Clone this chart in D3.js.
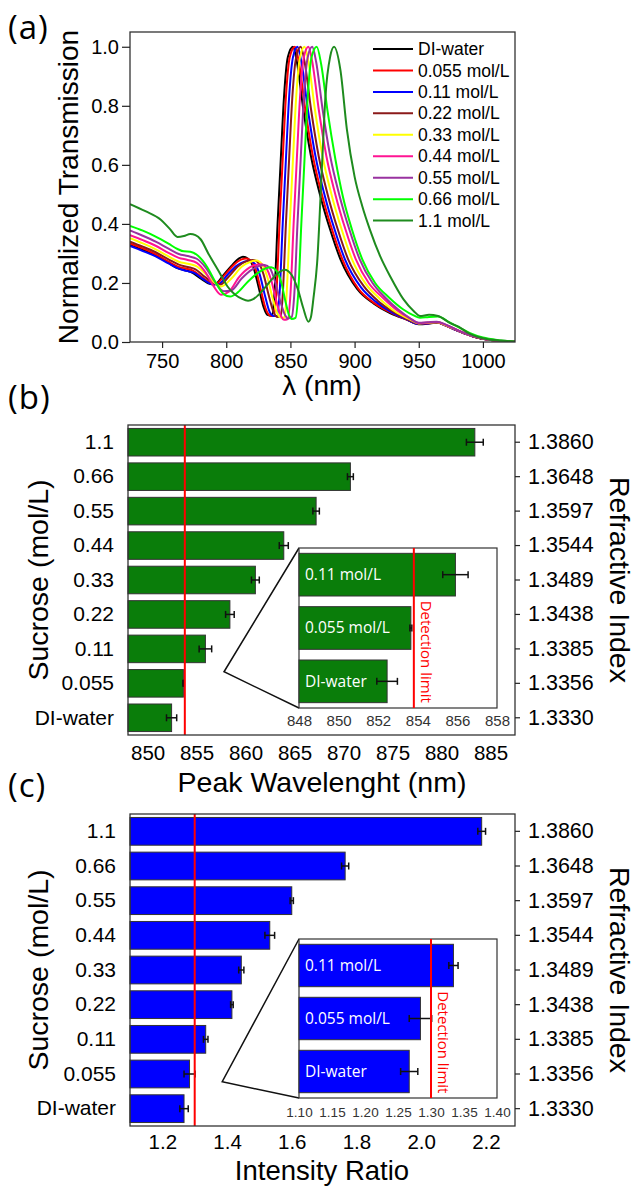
<!DOCTYPE html>
<html>
<head>
<meta charset="utf-8">
<script src="https://cdn.jsdelivr.net/npm/d3@7"></script>
<style>
body { margin: 0; background: #fff; }
svg text { font-family: "Liberation Sans", Arimo, Arial, sans-serif; fill: #000; }
</style>
</head>
<body>
<div id="chart-area"></div>
<script>
// ---------- data: panel (a) spectra, [wavelength nm, normalized transmission]
var specDI = [[725,0.328],[735,0.312],[745,0.293],[755,0.268],[762,0.250],[768,0.243],[773,0.236],[780,0.215],[787,0.197],[791,0.195],[797,0.222],[804,0.258],[810,0.283],[813,0.289],[817,0.282],[821,0.255],[825,0.190],[829,0.120],[832,0.092],[835.5,0.089],[837.5,0.160],[840,0.400],[842.5,0.620],[845,0.830],[848,0.965],[852,1.0],[855,0.95],[860,0.79],[866,0.63],[873,0.50],[881,0.38],[889,0.28],[902,0.18],[915,0.13],[928,0.097],[941,0.075],[950,0.060],[957,0.062],[964,0.066],[972,0.054],[982,0.035],[993,0.018],[1006,0.007],[1025,0.001]];
var spec0055 = [[725,0.334],[735,0.317],[745,0.297],[755,0.272],[762,0.256],[768,0.249],[774,0.242],[781,0.220],[788,0.200],[792,0.197],[799,0.228],[806,0.262],[812,0.280],[815.5,0.283],[819,0.276],[823,0.245],[827,0.175],[831,0.110],[834,0.090],[837,0.088],[839,0.160],[841.5,0.400],[844,0.620],[846.5,0.830],[849.5,0.965],[853.5,1.0],[856.5,0.95],[861.5,0.79],[867.5,0.63],[874.5,0.50],[882.5,0.38],[890.5,0.28],[903,0.18],[916,0.13],[929,0.098],[941,0.075],[950,0.061],[957,0.063],[964,0.066],[972,0.054],[982,0.035],[993,0.018],[1006,0.007],[1025,0.001]];
var spec011 = [[725,0.325],[735,0.308],[745,0.290],[755,0.266],[762,0.250],[769,0.241],[775,0.234],[782,0.213],[789,0.196],[794,0.196],[801,0.228],[808,0.258],[814,0.272],[818,0.275],[822,0.266],[826,0.230],[830,0.160],[834,0.100],[837,0.088],[839.5,0.088],[841.5,0.160],[844,0.400],[846.5,0.620],[849,0.830],[852,0.965],[855.5,1.0],[858.5,0.95],[863.5,0.79],[869.5,0.63],[876.5,0.50],[884.5,0.38],[892.5,0.28],[905,0.185],[917,0.135],[929,0.100],[941,0.076],[950,0.061],[957,0.063],[964,0.066],[972,0.054],[982,0.035],[993,0.018],[1006,0.007],[1025,0.001]];
var spec022 = [[725,0.340],[735,0.323],[745,0.304],[755,0.280],[763,0.262],[770,0.254],[776,0.246],[783,0.222],[790,0.200],[795,0.194],[802,0.222],[809,0.256],[816,0.274],[821,0.278],[825,0.268],[829,0.230],[833,0.160],[837,0.100],[840,0.085],[842.5,0.086],[844,0.160],[846.5,0.400],[849,0.620],[851.5,0.830],[854.5,0.965],[858,1.0],[861,0.95],[866,0.79],[872,0.63],[879,0.50],[887,0.38],[895,0.28],[907,0.19],[918,0.14],[930,0.103],[941,0.078],[950,0.062],[957,0.064],[964,0.066],[972,0.055],[982,0.036],[993,0.018],[1006,0.007],[1025,0.001]];
var spec033 = [[725,0.352],[735,0.334],[745,0.314],[755,0.290],[763,0.272],[770,0.265],[777,0.256],[784,0.230],[791,0.200],[796,0.188],[804,0.215],[812,0.255],[819,0.272],[823.5,0.276],[828,0.262],[832,0.220],[836,0.150],[840,0.095],[843,0.082],[845.5,0.084],[847,0.160],[849.5,0.400],[852,0.620],[854.5,0.830],[857.5,0.965],[861,1.0],[864,0.95],[869,0.79],[875,0.63],[882,0.50],[890,0.38],[898,0.28],[909,0.195],[920,0.145],[931,0.105],[942,0.079],[950,0.063],[957,0.065],[964,0.067],[972,0.055],[982,0.036],[993,0.019],[1006,0.007],[1025,0.001]];
var spec044 = [[725,0.362],[735,0.345],[745,0.326],[755,0.302],[763,0.285],[770,0.278],[777,0.268],[784,0.235],[790,0.190],[796,0.160],[802,0.170],[810,0.220],[818,0.252],[824,0.262],[827.5,0.263],[831,0.252],[835,0.210],[839,0.140],[843,0.085],[845,0.075],[848,0.078],[850,0.160],[852.5,0.400],[855,0.620],[857.5,0.830],[860.5,0.965],[864,1.0],[867,0.95],[872,0.79],[878,0.63],[885,0.50],[893,0.38],[901,0.28],[911,0.20],[922,0.15],[933,0.108],[943,0.080],[950,0.064],[957,0.066],[964,0.068],[972,0.056],[982,0.037],[993,0.019],[1006,0.007],[1025,0.001]];
var spec055 = [[725,0.378],[735,0.360],[745,0.340],[755,0.316],[763,0.298],[770,0.291],[777,0.282],[784,0.252],[791,0.205],[798,0.172],[804,0.175],[812,0.215],[820,0.245],[826,0.258],[830,0.261],[834,0.250],[838,0.205],[842,0.140],[846,0.090],[848,0.080],[851,0.085],[853,0.160],[855.5,0.400],[858,0.620],[860.5,0.830],[863.5,0.965],[867,1.0],[870,0.95],[875,0.79],[881,0.63],[888,0.50],[896,0.38],[904,0.28],[914,0.20],[924,0.15],[934,0.110],[943,0.081],[950,0.065],[957,0.067],[964,0.069],[972,0.057],[982,0.037],[993,0.019],[1006,0.007],[1025,0.001]];
var spec066 = [[725,0.393],[735,0.377],[745,0.357],[755,0.333],[762,0.315],[767,0.307],[772,0.306],[778,0.292],[785,0.255],[792,0.200],[798,0.162],[803,0.154],[809,0.168],[817,0.205],[825,0.235],[831,0.250],[835,0.253],[839,0.242],[843,0.200],[846,0.140],[849,0.090],[851,0.078],[854,0.082],[856,0.160],[858.5,0.400],[861,0.620],[863.5,0.830],[866.5,0.965],[870.5,1.0],[874,0.94],[879,0.78],[885,0.62],[891,0.49],[898,0.38],[906,0.28],[916,0.20],[927,0.15],[938,0.11],[946,0.090],[951,0.082],[958,0.085],[965,0.086],[974,0.066],[982,0.048],[990,0.030],[1000,0.015],[1012,0.006],[1025,0.001]];
var spec11 = [[725,0.467],[737,0.443],[749,0.414],[756,0.383],[762,0.356],[767,0.359],[772,0.366],[776,0.362],[780,0.348],[786,0.300],[795,0.233],[801,0.188],[807,0.160],[812,0.147],[817,0.140],[821,0.145],[825,0.159],[833,0.199],[840,0.232],[845.5,0.245],[851,0.227],[856,0.176],[860,0.115],[864,0.069],[866,0.085],[868,0.150],[870.8,0.267],[874.7,0.606],[877.3,0.832],[881,0.967],[884,1.0],[889,0.92],[894,0.72],[900,0.56],[906,0.46],[912,0.38],[920,0.29],[928,0.22],[938,0.145],[946,0.105],[951,0.088],[958,0.092],[965,0.088],[975,0.063],[981,0.052],[988,0.032],[1000,0.013],[1014,0.005],[1025,0.002]];

var spectrumNames = ["DI-water","0.055 mol/L","0.11 mol/L","0.22 mol/L","0.33 mol/L","0.44 mol/L","0.55 mol/L","0.66 mol/L","1.1 mol/L"];
var spectrumColors = ["#000000","#ff0000","#0000ff","#8b1a1a","#ffff00","#ff1493","#9932a0","#00ff00","#1e8b1e"];
var spectra = [specDI, spec0055, spec011, spec022, spec033, spec044, spec055, spec066, spec11];
var wlTicks = [750,800,850,900,950,1000];
var transTicks = [0,0.2,0.4,0.6,0.8,1.0];

// ---------- data: panels (b) and (c), top to bottom
var categories = ["1.1","0.66","0.55","0.44","0.33","0.22","0.11","0.055","DI-water"];
var refractiveIndex = ["1.3860","1.3648","1.3597","1.3544","1.3489","1.3438","1.3385","1.3356","1.3330"];
var peakWavelength = [883.4,870.7,867.2,863.9,861.0,858.4,855.9,853.65,852.45];
var peakError = [0.86,0.30,0.33,0.46,0.40,0.44,0.64,0.05,0.52];
var intensityRatio = [2.187,1.765,1.600,1.532,1.444,1.415,1.334,1.284,1.267];
var ratioError = [0.012,0.011,0.005,0.015,0.008,0.004,0.007,0.017,0.013];
var insetLabels = ["0.11 mol/L","0.055 mol/L","DI-water"];
var peakLimit = 853.8;
var ratioLimit = 1.30;
var peakTicks = [850,855,860,865,870,875,880,885];
var peakInsetTicks = [848,850,852,854,856,858];
var ratioTicks = [1.2,1.4,1.6,1.8,2.0,2.2];
var ratioInsetTicks = [1.10,1.15,1.20,1.25,1.30,1.35,1.40];

var svg = d3.select("#chart-area").append("svg")
    .attr("width", 636)
    .attr("height", 1186);

function styleAxis(g, size){
    g.select(".domain").remove();
    g.selectAll(".tick line").attr("stroke", "#222").attr("stroke-width", 1.2);
    g.selectAll(".tick text").attr("font-size", size);
}

function panelLabel(txt, y){
    svg.append("text").attr("x", 8).attr("y", y).text(txt)
        .style("font-family", "'Open Sans', sans-serif")
        .attr("font-size", 33).attr("letter-spacing", 1);
}

// ================= panel (a)
var xa = d3.scaleLinear().domain([725,1025]).range([130,515]);
var ya = d3.scaleLinear().domain([0,1.05]).range([342,32]);

svg.append("clipPath").attr("id","clipA").append("rect")
    .attr("x",130).attr("y",32).attr("width",385).attr("height",310);

var line = d3.line()
    .x(function(d){ return xa(d[0]); })
    .y(function(d){ return ya(d[1]); })
    .curve(d3.curveMonotoneX);

svg.append("g").attr("clip-path","url(#clipA)")
    .selectAll("path").data(spectra).enter()
    .append("path")
        .attr("d", line)
        .attr("fill","none")
        .attr("stroke", function(d,i){ return spectrumColors[i]; })
        .attr("stroke-width", 2);

svg.append("rect").attr("x",130).attr("y",32).attr("width",385).attr("height",310)
    .attr("fill","none").attr("stroke","#333").attr("stroke-width",1.3);

var gay = svg.append("g").attr("transform","translate(130,0)")
    .call(d3.axisLeft(ya).tickValues(transTicks).tickFormat(d3.format(".1f")).tickSize(8).tickPadding(3));
styleAxis(gay, 20);
var gax = svg.append("g").attr("transform","translate(0,342)")
    .call(d3.axisBottom(xa).tickValues(wlTicks).tickFormat(d3.format("d")).tickSize(6).tickPadding(6));
styleAxis(gax, 20);

svg.append("text").attr("transform","translate(78,187) rotate(-90)")
    .attr("text-anchor","middle").attr("font-size",28).text("Normalized Transmission");
svg.append("text").attr("x",322).attr("y",395)
    .attr("text-anchor","middle").attr("font-size",28).text("λ (nm)");

// legend
var legend = svg.append("g").selectAll("g").data(spectrumNames).enter()
    .append("g").attr("transform", function(d,i){ return "translate(373," + (49 + i*21.45) + ")"; });
legend.append("line").attr("x1",0).attr("x2",40)
    .attr("stroke", function(d,i){ return spectrumColors[i]; }).attr("stroke-width",2);
legend.append("text").attr("x",45).attr("dy","0.35em").attr("font-size",17.5).text(function(d){ return d; });

panelLabel("(a)", 39);

// ================= panels (b) and (c)
function barPanel(cfg){
    var x = d3.scaleLinear().domain(cfg.domain).range([cfg.left, 515]);
    var y = d3.scaleBand().domain(categories).range([cfg.top, cfg.bottom])
        .paddingInner(0.2).paddingOuter(0.1);
    var g = svg.append("g");

    g.selectAll("rect.bar").data(cfg.values).enter()
        .append("rect").attr("class","bar")
            .attr("x", x(cfg.domain[0]))
            .attr("y", function(d,i){ return y(categories[i]); })
            .attr("width", function(d){ return x(d) - x(cfg.domain[0]); })
            .attr("height", y.bandwidth())
            .attr("fill", cfg.color)
            .attr("stroke","#333").attr("stroke-width",1);

    errorBars(g, cfg.values, cfg.errors, x, function(i){ return y(categories[i]) + y.bandwidth()/2; });

    g.append("line").attr("x1", x(cfg.limit)).attr("x2", x(cfg.limit))
        .attr("y1", cfg.top).attr("y2", cfg.bottom)
        .attr("stroke","#ff0000").attr("stroke-width",2);

    g.append("rect").attr("x",cfg.left).attr("y",cfg.top)
        .attr("width",515-cfg.left).attr("height",cfg.bottom-cfg.top)
        .attr("fill","none").attr("stroke","#333").attr("stroke-width",1.3);

    var gl = g.append("g").attr("transform","translate(" + cfg.left + ",0)")
        .call(d3.axisLeft(y).tickSize(0).tickPadding(14));
    styleAxis(gl, 21);
    var gr = g.append("g").attr("transform","translate(515,0)")
        .call(d3.axisRight(y).tickSize(5).tickFormat(function(d,i){ return refractiveIndex[i]; }).tickPadding(8));
    styleAxis(gr, 21.5);
    var gb = g.append("g").attr("transform","translate(0," + cfg.bottom + ")")
        .call(d3.axisBottom(x).tickValues(cfg.ticks).tickSize(0).tickPadding(cfg.tickPad).tickFormat(cfg.format));
    styleAxis(gb, 20.5);

    var mid = (cfg.top + cfg.bottom)/2;
    g.append("text").attr("transform","translate(48," + mid + ") rotate(-90)")
        .attr("text-anchor","middle").attr("font-size",28.5).text("Sucrose (mol/L)");
    g.append("text").attr("transform","translate(610," + mid + ") rotate(90)")
        .attr("text-anchor","middle").attr("font-size",28.5).text("Refractive Index");
    g.append("text").attr("x",322).attr("y",cfg.titleY)
        .attr("text-anchor","middle").attr("font-size",cfg.titleSize).text(cfg.title);

    // inset with the three lowest concentrations
    var xi = d3.scaleLinear().domain(cfg.insetDomain).range([299,497]);
    var yi = d3.scaleBand().domain(insetLabels).range([cfg.insetTop, cfg.insetBottom])
        .paddingInner(0.2).paddingOuter(0.1);
    var insetVals = cfg.values.slice(6);
    var insetErrs = cfg.errors.slice(6);

    g.append("polyline")
        .attr("points", [[299, cfg.insetTop], [x(cfg.zoomAt), y("0.055") + cfg.zoomDy*y.bandwidth()], [299, cfg.insetBottom]]
            .map(function(p){ return p.join(","); }).join(" "))
        .attr("fill","none").attr("stroke","#111").attr("stroke-width",1.5);

    g.append("rect").attr("x",299).attr("y",cfg.insetTop)
        .attr("width",198).attr("height",cfg.insetBottom-cfg.insetTop)
        .attr("fill","#fff").attr("stroke","#333").attr("stroke-width",1.2);

    g.selectAll("rect.ibar").data(insetVals).enter()
        .append("rect").attr("class","ibar")
            .attr("x", 299)
            .attr("y", function(d,i){ return yi(insetLabels[i]); })
            .attr("width", function(d){ return xi(d) - 299; })
            .attr("height", yi.bandwidth())
            .attr("fill", cfg.color)
            .attr("stroke","#333").attr("stroke-width",1);

    g.selectAll("text.ilab").data(insetLabels).enter()
        .append("text").attr("class","ilab")
            .attr("x", 305)
            .attr("y", function(d){ return yi(d) + yi.bandwidth()/2; })
            .attr("dy","0.35em")
            .style("font-family","'Open Sans', sans-serif")
            .style("fill","#fff")
            .attr("font-size",15.5)
            .text(function(d){ return d; });

    errorBars(g, insetVals, insetErrs, xi, function(i){ return yi(insetLabels[i]) + yi.bandwidth()/2; });

    g.append("line").attr("x1", xi(cfg.limit)).attr("x2", xi(cfg.limit))
        .attr("y1", cfg.insetTop).attr("y2", cfg.insetBottom)
        .attr("stroke","#ff0000").attr("stroke-width",2);

    g.append("text")
        .attr("transform","translate(" + (xi(cfg.limit)+7) + "," + (yi("0.055 mol/L")-6) + ") rotate(90)")
        .style("font-family","'Open Sans', sans-serif")
        .style("fill","#ff0000")
        .attr("font-size",15)
        .text("Detection limit");

    var gi = g.append("g").attr("transform","translate(0," + cfg.insetBottom + ")")
        .call(d3.axisBottom(xi).tickValues(cfg.insetTicks).tickSize(0).tickPadding(cfg.insetPad).tickFormat(cfg.insetFormat));
    styleAxis(gi, cfg.insetFont);
    gi.selectAll(".tick text").style("fill","#333");
}

function errorBars(g, vals, errs, x, yc){
    var eb = g.append("g").selectAll("g").data(vals).enter().append("g");
    eb.append("line")
        .attr("x1", function(d,i){ return x(d - errs[i]); })
        .attr("x2", function(d,i){ return x(d + errs[i]); })
        .attr("y1", function(d,i){ return yc(i); })
        .attr("y2", function(d,i){ return yc(i); })
        .attr("stroke","#111").attr("stroke-width",1.5);
    [-1, 1].forEach(function(s){
        eb.append("line")
            .attr("x1", function(d,i){ return x(d + s*errs[i]); })
            .attr("x2", function(d,i){ return x(d + s*errs[i]); })
            .attr("y1", function(d,i){ return yc(i) - 3.5; })
            .attr("y2", function(d,i){ return yc(i) + 3.5; })
            .attr("stroke","#111").attr("stroke-width",1.5);
    });
}

barPanel({
    values: peakWavelength, errors: peakError, color: "#0a7d0a",
    domain: [848, 887.5], left: 128, top: 425, bottom: 735,
    ticks: peakTicks, format: d3.format("d"), tickPad: 10,
    limit: peakLimit, title: "Peak Wavelenght (nm)", titleY: 792, titleSize: 28.5,
    insetDomain: [848, 858], insetTop: 548, insetBottom: 708,
    insetTicks: peakInsetTicks, insetFormat: d3.format("d"), insetPad: 7, insetFont: 15,
    zoomAt: 857.8, zoomDy: 0.08
});
panelLabel("(b)", 409);

barPanel({
    values: intensityRatio, errors: ratioError, color: "#0000ff",
    domain: [1.1, 2.29], left: 130, top: 814, bottom: 1126,
    ticks: ratioTicks, format: d3.format(".1f"), tickPad: 8,
    limit: ratioLimit, title: "Intensity Ratio", titleY: 1180, titleSize: 27.5,
    insetDomain: [1.10, 1.40], insetTop: 939, insetBottom: 1098,
    insetTicks: ratioInsetTicks, insetFormat: d3.format(".2f"), insetPad: 9, insetFont: 13.5,
    zoomAt: 1.385, zoomDy: 0.78
});
panelLabel("(c)", 797);
</script>
</body>
</html>
